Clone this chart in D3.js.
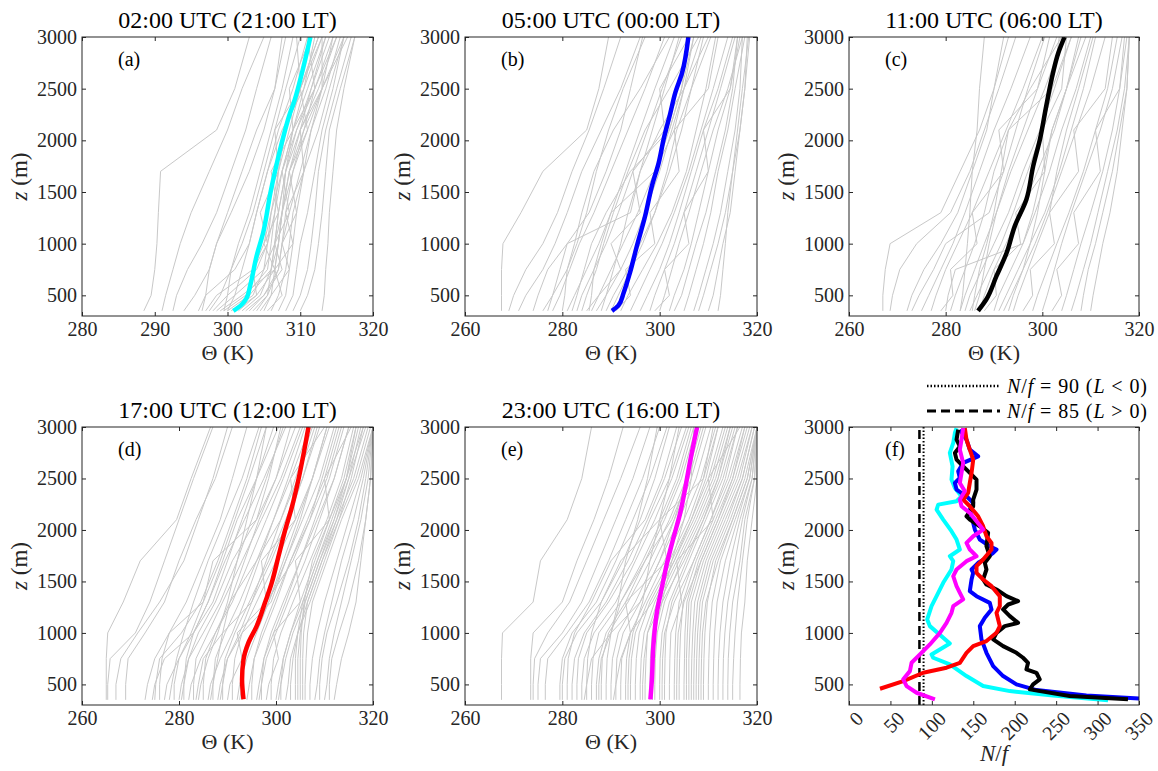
<!DOCTYPE html>
<html>
<head>
<meta charset="utf-8">
<script src="https://cdn.jsdelivr.net/npm/d3@7"></script>
<style>
  body { margin: 0; background: #fff; }
</style>
</head>
<body>
<svg id="chart" width="1158" height="771"></svg>
<script>
// heights (m) shared by all grey soundings
const LEVELS = [350, 500, 750, 1000, 1300, 1700, 2100, 2500, 3000];

// grey soundings, theta (K) at LEVELS
const greyA = [
  [288.5, 289.5, 290, 290.3, 290.5, 290.8, 298.5, 301, 303],
  [291, 291.5, 292.5, 293.5, 295, 297.5, 300, 302, 305],
  [292.5, 293, 294.5, 296.5, 298.5, 300.5, 302.5, 304, 306],
  [294, 295.5, 297.5, 298.5, 300, 302, 304, 306.5, 308],
  [296, 297, 301, 303, 304, 305.5, 307, 309, 311],
  [297, 298.5, 303.5, 305, 306, 307, 308.5, 310, 312.5],
  [297.5, 299, 300.5, 302, 303.5, 305, 306.5, 308, 310],
  [298, 300, 304, 305.5, 306.5, 307.5, 309, 311, 313.5],
  [298.5, 301, 305, 306.5, 307, 308, 309.5, 311.5, 314],
  [299, 302, 306.5, 305, 307, 306, 309, 308.5, 311.5],
  [299.5, 302.5, 305.5, 306, 306.5, 307, 308, 310, 313],
  [300, 303, 306, 307, 307.5, 308, 309, 310.5, 312],
  [300.5, 303.5, 305, 305.5, 306, 307.5, 309.5, 312, 315],
  [301, 304, 303.5, 305.5, 304.5, 307, 306.5, 310, 309.5],
  [301.5, 304, 306.5, 307, 307.5, 308.5, 310, 312.5, 315],
  [302, 304.5, 306, 306.5, 307.5, 309, 311, 313, 316],
  [302.5, 305, 307.5, 306.5, 308.5, 307.5, 309, 312, 311],
  [303, 305, 307, 307.5, 308, 309, 310.5, 312, 314.5],
  [303.5, 305.5, 306, 306.5, 307, 308, 310, 311.5, 313.5],
  [304, 305.5, 307, 307.5, 308.5, 310, 311.5, 313.5, 315.5],
  [304.5, 306, 308.5, 307.5, 309.5, 308.5, 311, 310, 312.5],
  [305, 306, 306.5, 307, 307.5, 308.5, 310.5, 313, 316.5],
  [305.5, 307.5, 306.5, 309, 308, 310.5, 310, 313, 313],
  [306, 307, 308, 308.5, 309, 310.5, 312.5, 314, 316],
  [307, 308, 308.5, 309, 309.5, 310.5, 311.5, 313, 314.5],
  [308, 309, 309.5, 310, 311, 312, 313, 314.5, 316],
  [309, 310, 311, 311.5, 312, 312.5, 313.5, 315, 317],
  [310, 311, 312, 312.5, 313, 313.5, 314, 315.5, 317.5],
  [313, 313.3, 313.5, 313.8, 314, 314.5, 315, 316, 317.5],
  [296.5, 297, 297.5, 298.5, 300.5, 303, 305, 306.5, 307.5],
  [299.5, 300, 300.5, 301.5, 303, 304.5, 306, 307.5, 309],
  [300, 301, 302, 303, 304, 305.5, 307.5, 310.5, 313]
];
const greyB = [
  [267.5, 267.5, 267.5, 267.8, 271.5, 276, 285, 287.5, 289.5],
  [269, 270, 272.5, 276, 279, 282, 285.5, 288.5, 292],
  [271, 272.5, 276, 278.5, 281, 284, 288, 292, 296],
  [274, 275, 277, 281, 285.5, 289, 292, 294, 296.5],
  [276, 278, 281, 283, 285, 287, 289.5, 292.5, 297],
  [278, 279.5, 281.5, 283.5, 286.5, 290, 293.5, 297, 301],
  [280, 280.5, 281, 282.5, 284, 286.5, 290.5, 296, 302],
  [281, 282.5, 285, 287.5, 290, 293, 296, 299, 303],
  [283, 284, 286.5, 289, 291.5, 294.5, 297.5, 300.5, 304.5],
  [284, 285, 287, 288.5, 290.5, 293.5, 297, 302, 308],
  [285, 287.5, 292, 290, 296, 294.5, 301, 300, 306],
  [286, 287.5, 290, 292.5, 295.5, 299, 302, 304.5, 307],
  [287, 289, 292, 294.5, 297, 300, 302.5, 305, 308.5],
  [288, 289, 290.5, 292, 293.5, 296, 300, 305, 310],
  [289, 290.5, 293.5, 296, 299, 302, 304.5, 306.5, 309],
  [290, 291.5, 294, 296.5, 299, 301.5, 303.5, 306.5, 310.5],
  [291, 294, 293, 299, 298, 304, 303, 310, 312],
  [292, 293.5, 296.5, 299.5, 302.5, 305.5, 307.5, 309.5, 311.5],
  [294, 295.5, 298, 300.5, 303, 306, 308.5, 311, 314],
  [296, 297.5, 300, 302, 304, 306.5, 309, 312, 315],
  [298, 299, 301, 303, 305, 307.5, 310, 312.5, 315.5],
  [299, 302, 301, 306, 305, 310, 309, 314.5, 316],
  [300, 301, 302.5, 304, 306, 308.5, 311, 314, 317],
  [302, 303, 305, 306.5, 308, 310, 312, 314.5, 316.5],
  [303, 304.5, 306, 307.5, 309.5, 311.5, 313.5, 315, 316],
  [305, 306, 307.5, 309, 310.5, 312, 314, 315.5, 317.5],
  [307, 308, 309.5, 311, 312.5, 314, 315.5, 316.5, 317],
  [308, 309, 310.5, 312, 313.5, 315, 316.5, 317.5, 318.5],
  [310, 311, 312, 313, 314.5, 315.5, 316.5, 317.5, 318],
  [312, 312.5, 313, 313.5, 314, 315, 316, 317, 318.3],
  [285.5, 286, 286.5, 288, 290, 299, 303, 305, 307],
  [282, 283, 284.5, 286, 289, 294, 302, 304.5, 306],
  [277, 278, 279.5, 281, 294, 296, 298.5, 301, 304]
];
const greyC = [
  [267, 267, 267.5, 268.5, 279, 283, 287, 290, 293],
  [268.5, 269, 270.5, 274, 281, 285, 288, 291, 294.5],
  [272, 273, 275.5, 279, 282.5, 285.5, 288.5, 290, 292],
  [273, 274.5, 277.5, 280, 289, 292, 294.5, 297, 300.5],
  [275, 276.5, 279, 281.5, 284, 287, 290, 293.5, 297.5],
  [277, 278, 280, 282.5, 285.5, 289, 292.5, 296, 300],
  [279, 281.5, 281, 286.5, 285.5, 292, 291, 299, 303],
  [281, 282, 284, 286, 288, 290, 293, 297.5, 304],
  [283, 284, 286, 288, 290.5, 293.5, 297, 300.5, 304.5],
  [284, 285, 287.5, 290, 293, 296, 299.5, 302.5, 306],
  [285, 286.5, 289, 291.5, 294, 297, 300, 302, 303.5],
  [287, 288, 290, 292.5, 295.5, 299, 302.5, 305, 307.5],
  [288, 290.5, 290, 295.5, 294.5, 300.5, 300, 304, 305],
  [290, 291, 293.5, 296, 298.5, 301.5, 304, 307, 310],
  [291, 292.5, 295, 297.5, 300.5, 303.5, 306, 308.5, 311],
  [293, 294, 296, 298.5, 301, 304, 307, 310, 313],
  [294, 295, 297, 299, 301.5, 303, 305, 307.5, 310.5],
  [296, 298, 297.5, 302.5, 301.5, 307.5, 306.5, 313, 314.5],
  [298, 299, 301, 303, 305.5, 308.5, 311, 313.5, 315.5],
  [300, 301, 302.5, 304, 306, 309, 312, 314.5, 316.5],
  [302, 304, 303, 307.5, 306.5, 312, 311, 316, 317],
  [304, 305, 306.5, 308, 310, 312.5, 314.5, 316, 317.5],
  [306, 307, 308.5, 310, 311.5, 313.5, 315.5, 317, 318],
  [308, 308.5, 309.5, 311, 312.5, 314.5, 316, 317.5, 318],
  [310, 310.5, 311.5, 312.5, 314, 315.5, 316.5, 317.5, 318],
  [283, 283.5, 284, 284.5, 285, 285.5, 286.5, 287, 288],
  [286, 287, 288, 289, 290.5, 293, 296, 299, 301.5],
  [292, 293.5, 296, 297.5, 299, 300.5, 302, 305, 308],
  [280, 280.5, 282, 296, 298, 300, 302, 305, 309],
  [285.5, 286, 287, 288.5, 290, 291.5, 293, 302, 306]
];
const greyD = [
  [265, 265, 265, 265.3, 268.5, 272, 279.5, 282.5, 286.5],
  [265.3, 265.3, 265.8, 271, 274, 277, 280, 283, 287],
  [267, 267, 268, 271.5, 276, 281, 284, 287, 290],
  [269, 269, 269.5, 273, 277, 280, 283.5, 287.5, 291],
  [273, 273.5, 275, 278, 281.5, 285, 288.5, 291, 294],
  [275, 275.2, 276, 280.5, 284.5, 288, 291, 294, 297],
  [276, 276, 276.5, 278, 285, 288.5, 291.5, 294.5, 298],
  [277, 277.5, 280, 282.5, 285, 287, 296, 298.5, 301],
  [278, 278.5, 279.5, 281, 283, 286, 289.5, 293, 296.5],
  [279, 279, 280, 283, 286, 289, 292, 296, 300.5],
  [280, 280.5, 282, 285, 288.5, 292, 295, 298, 301.5],
  [281, 281, 281.5, 283, 286, 289.5, 293.5, 297.5, 302],
  [282, 282.5, 284.5, 287.5, 290.5, 293.5, 296.5, 300, 304],
  [283, 283, 283.5, 286, 289, 293, 297, 301, 305],
  [284, 284.5, 286, 288, 290, 292, 294, 296, 298],
  [285, 285, 285.5, 287.5, 291, 294.5, 298, 301.5, 305.5],
  [286, 286.5, 288.5, 291, 293.5, 296.5, 299.5, 302.5, 306],
  [287, 287, 287.5, 289.5, 292.5, 296, 299.5, 303, 307],
  [288, 288.5, 290, 292.5, 295, 298, 301, 304.5, 308],
  [289, 289, 289.5, 291.5, 294.5, 298.5, 302, 305.5, 308.5],
  [290, 290.5, 293, 292, 298, 297, 304, 303, 310],
  [291, 291, 291.5, 293, 296, 300, 304, 307.5, 311],
  [292, 292.5, 294, 296, 298.5, 301.5, 304.5, 307.5, 310.5],
  [293, 293, 293.5, 295.5, 298.5, 302, 305.5, 309, 312],
  [294, 294.5, 295.5, 297.5, 300, 303, 306.5, 310, 313],
  [295, 295, 295.5, 297, 299.5, 303, 307, 310.5, 313.5],
  [296, 296.5, 297.5, 299.5, 302, 305, 308, 311, 314],
  [297, 297, 297.5, 299, 301.5, 305, 308.5, 312, 315],
  [298, 298.5, 300.5, 299.5, 305, 304, 311, 310, 315.5],
  [299, 299, 299.5, 301, 303.5, 307, 310.5, 313.5, 316],
  [300, 300.5, 301.5, 303, 305, 308, 311, 314, 316.5],
  [301, 301, 301.5, 303, 305.5, 308.5, 311.5, 314.5, 317],
  [302, 302.5, 303, 304.5, 306.5, 309.5, 312.5, 315, 317.5],
  [303, 303, 303.5, 304.5, 307, 310, 313, 315.5, 318],
  [304, 304, 304, 304.5, 305.5, 308.5, 312, 315, 318.5],
  [304.5, 304.5, 304.5, 305, 306, 309, 312.5, 316, 319],
  [305, 305, 305, 305.2, 305.8, 307.5, 311, 314.5, 318],
  [305.5, 305.5, 305.5, 305.7, 306.5, 309.5, 313, 316.5, 319.5],
  [306, 306, 306.2, 306.5, 307.5, 310.5, 313.5, 317, 320],
  [307, 307, 307.5, 308.5, 310, 312.5, 315, 317.5, 320],
  [308, 308.5, 309, 310, 311.5, 313.5, 316, 318, 320],
  [309, 309, 309.5, 310.5, 312.5, 315, 317, 318.5, 320],
  [310, 310.5, 311, 312, 313.5, 315.5, 317.5, 319, 320],
  [311, 311, 311.5, 313, 315, 317, 318.5, 319.5, 320],
  [312, 312.5, 313.5, 315, 316.5, 317.5, 318.5, 319.5, 320],
  [283.5, 284, 285, 289, 295, 299, 302.5, 305.5, 309],
  [288.5, 289, 290, 293, 299, 302, 305, 307.5, 310.5],
  [286.5, 287, 288, 289, 290.5, 296, 301, 304, 307.5],
  [292.5, 293, 293.5, 295, 298, 303.5, 307, 309.5, 312.5],
  [280.5, 281, 282, 284, 287.5, 291, 296, 300, 303],
  [296.5, 297, 298, 300, 302.5, 306, 309, 312, 315],
  [300.5, 301, 302, 303.5, 306, 309, 312, 314.5, 316.5],
  [274.5, 275, 277, 283, 287, 290, 293, 296, 299.5]
];
const greyE = [
  [267.5, 267.5, 267.5, 267.7, 274, 275.5, 281, 284, 286],
  [273.5, 273.5, 273.5, 274, 280, 283, 286.5, 289.5, 292.5],
  [274, 274, 274.3, 277, 281.5, 285, 288.5, 292, 296],
  [275, 275, 275.5, 280, 284, 287.5, 291, 294.5, 298],
  [276.5, 276.5, 277, 281, 285.5, 289.5, 293, 296.5, 300],
  [279.5, 279.5, 280, 282, 287, 291, 294.5, 298, 301.5],
  [280, 280, 280.5, 283, 288, 292.5, 296, 299, 302],
  [281, 281, 281.2, 282.5, 286, 290, 297, 300.5, 303.5],
  [282, 282, 282.5, 284.5, 289, 293.5, 297.5, 301, 304.5],
  [283, 283, 283.3, 285, 289.5, 294.5, 298, 302, 305.5],
  [284, 284, 284.5, 286.5, 291, 295, 299, 302.5, 306],
  [285, 285, 285.2, 286, 288, 292, 300, 303.5, 306.5],
  [286, 286, 286.3, 287.5, 292, 296.5, 300.5, 304, 307],
  [287, 287, 287.5, 289, 293, 297, 301, 304.5, 307.5],
  [288, 288, 288.2, 289.5, 293.5, 298, 302, 305.5, 308.5],
  [289, 289, 289.2, 290, 292, 297, 302.5, 306, 309],
  [290, 290, 290.3, 291.5, 295, 299, 303, 306.5, 309.5],
  [291, 291, 291.2, 292.5, 296, 300, 304, 307.5, 310.5],
  [292, 292, 292.2, 294, 293, 301.5, 300, 309, 311],
  [293, 293, 293.2, 294, 297, 301, 305, 308.5, 311.5],
  [294, 294, 294.2, 295, 297.5, 302, 306, 309, 312],
  [295, 295, 295.2, 295.8, 298, 302.5, 306.5, 310, 313],
  [296, 296, 296.2, 296.8, 299, 303, 307, 310.5, 313.5],
  [297, 297, 297.2, 297.5, 299.5, 303.5, 307.5, 311, 314],
  [298, 298, 298.1, 298.5, 300, 304, 308, 311.5, 314.5],
  [299, 299, 299.1, 299.5, 301, 304.5, 308.5, 312, 315],
  [300, 300, 300.1, 300.5, 302, 305.5, 309, 312.5, 315.5],
  [301, 301, 301.1, 301.3, 302.5, 306, 309.5, 313, 316],
  [302, 302, 302.1, 302.3, 304.5, 303.5, 311, 310, 316.5],
  [303, 303, 303.1, 303.3, 304, 307, 310.5, 314, 317],
  [304, 304, 304.1, 304.3, 304.8, 307.5, 311, 314.5, 317.5],
  [305, 305, 305.1, 305.2, 305.6, 308, 311.5, 315, 318],
  [305.5, 305.5, 305.5, 305.7, 306, 308.5, 312, 315.5, 318.5],
  [306, 306, 306, 306.2, 306.5, 309, 312.5, 316, 319],
  [306.5, 306.5, 306.6, 306.8, 307.2, 309.5, 313, 316.5, 319],
  [307, 307, 307.1, 307.3, 307.8, 310, 313.5, 317, 319.5],
  [307.5, 307.5, 307.6, 307.8, 308.3, 310.5, 314, 317, 319.5],
  [308, 308, 308.1, 308.3, 308.8, 311, 314.5, 317.5, 320],
  [309, 309, 309.1, 309.3, 309.8, 311.5, 315, 318, 320],
  [310, 310, 310.1, 310.3, 310.8, 312.5, 315.5, 318.5, 320],
  [311, 311, 311.1, 311.3, 311.8, 313.5, 316, 318.5, 320],
  [312, 312, 312.1, 312.4, 313, 314.5, 316.5, 319, 320],
  [313, 313, 313.1, 313.4, 314, 315.5, 317, 319, 320],
  [314, 314, 314.1, 314.4, 315, 316.5, 317.5, 319.5, 320],
  [315, 315, 315.2, 315.5, 316, 317, 318, 319.5, 320],
  [316.5, 316.5, 316.6, 316.8, 317.5, 318, 319, 320, 320],
  [284.5, 285, 286, 290, 296, 300, 303, 305.5, 307.5],
  [290.5, 291, 292, 294, 298.5, 303, 306.5, 309.5, 312],
  [296.5, 296.5, 296.8, 297.5, 300.5, 305, 309, 312, 314.5],
  [300.5, 300.5, 300.6, 301, 303, 307, 310.5, 313.5, 316],
  [303.5, 303.5, 303.6, 303.8, 305, 308.5, 312, 315, 317.5],
  [308.5, 308.5, 308.6, 308.8, 309.5, 312, 315, 318, 320],
  [298.5, 298.5, 298.6, 299, 300.5, 302.5, 305, 306.5, 307],
  [293.5, 293.5, 293.7, 294.5, 296.5, 298, 300, 302, 304],
  [287.5, 287.5, 288, 290, 291.5, 293, 295.5, 297.5, 299.5]
];

// mean profiles [theta (K), z (m)]
const meanA = [[300.8, 350], [301.8, 400], [302.6, 470], [303.1, 590], [304.0, 880], [304.9, 1105], [305.9, 1492], [306.8, 1782], [307.7, 2040], [308.6, 2265], [309.1, 2362], [310.0, 2588], [311.4, 3000]];
const meanB = [[290.2, 350], [291.5, 400], [292.6, 525], [293.9, 720], [295.3, 975], [297.0, 1265], [298.4, 1557], [299.8, 1782], [300.8, 2008], [302.2, 2265], [303.2, 2459], [304.6, 2652], [305.9, 3000]];
const meanC = [[286.7, 350], [288.4, 460], [290.5, 685], [292.6, 910], [294.3, 1170], [296.7, 1428], [298.1, 1750], [299.5, 2008], [300.8, 2330], [302.2, 2652], [303.3, 2845], [304.6, 3000]];
const meanD = [[293.3, 355], [293.0, 548], [293.3, 742], [294.3, 903], [296.0, 1064], [297.7, 1290], [299.1, 1484], [300.5, 1742], [301.9, 2000], [303.3, 2226], [304.6, 2484], [305.7, 2742], [306.7, 3000]];
const meanE = [[298.1, 355], [298.4, 548], [298.7, 871], [299.4, 1193], [300.5, 1452], [301.5, 1677], [302.9, 1935], [304.2, 2161], [305.3, 2419], [306.3, 2677], [307.7, 3000]];

// panel (f): N/f profiles [N/f, z (m)]
const nfCyan = [[312.6, 345], [246.3, 393], [194.1, 435], [161.9, 484], [141.8, 581], [121.7, 694], [101.6, 759], [99.6, 791], [121.7, 898], [97.6, 1066], [94.4, 1131], [99.6, 1260], [105.7, 1357], [113.7, 1487], [123.7, 1616], [125.8, 1697], [121.7, 1745], [133.8, 1810], [129.8, 1907], [123.7, 1988], [113.7, 2101], [105.7, 2198], [107.7, 2246], [129.8, 2279], [135.8, 2327], [127.8, 2408], [123.7, 2489], [125, 2618], [121.7, 2748], [125.8, 2845], [127.8, 2942], [129.8, 2990]];
const nfBlue = [[354.8, 361], [286.5, 393], [226.2, 445], [202.1, 500], [186, 581], [174, 678], [165.9, 807], [159.9, 937], [157.9, 1066], [163.9, 1147], [172, 1228], [169.9, 1292], [153.9, 1357], [145.8, 1406], [147.9, 1519], [149.9, 1584], [147.9, 1616], [155.9, 1681], [165.9, 1729], [174, 1778], [178, 1810], [169.9, 1842], [157.9, 1907], [151.9, 2004], [145.8, 2198], [149.9, 2263], [141.8, 2327], [129.8, 2392], [127.8, 2457], [133.8, 2505], [131.8, 2570], [137.8, 2651], [155.9, 2715], [145.8, 2780], [141.8, 2877], [133.8, 2974]];
const nfBlack = [[336.7, 355], [266.4, 387], [218.2, 452], [222.2, 500], [230.2, 549], [226.2, 613], [214.1, 646], [216.1, 710], [210.1, 759], [202.1, 807], [186, 872], [174, 937], [178, 1001], [188, 1066], [204.1, 1098], [194.1, 1163], [186, 1228], [192.1, 1276], [204.1, 1309], [190.1, 1357], [178, 1422], [165.9, 1470], [161.9, 1519], [165.9, 1616], [163.9, 1681], [169.9, 1745], [165.9, 1842], [167.9, 1972], [157.9, 2036], [145.8, 2101], [141.8, 2133], [149.9, 2230], [149.9, 2295], [153.9, 2392], [153.9, 2489], [145.8, 2554], [137.8, 2618], [129.8, 2683], [127.8, 2748], [133.8, 2812], [129.8, 2877], [131.8, 2974]];
const nfRed = [[37.4, 458], [65.5, 532], [89.6, 613], [117.7, 662], [133.8, 710], [141.8, 807], [149.9, 872], [165.9, 921], [178, 1001], [182, 1066], [180, 1131], [178, 1195], [182, 1260], [182, 1357], [172, 1454], [161.9, 1519], [153.9, 1584], [153.9, 1648], [161.9, 1713], [172, 1810], [172, 1874], [165.9, 1939], [161.9, 2036], [155.9, 2133], [145.8, 2230], [137.8, 2295], [143.8, 2360], [145.8, 2457], [147.9, 2554], [149.9, 2683], [145.8, 2780], [141.8, 2877], [139.8, 2990]];
const nfMagenta = [[103.7, 355], [81.6, 419], [69.5, 484], [65.5, 549], [73.5, 629], [75.5, 710], [85.6, 791], [97.6, 888], [109.7, 1001], [117.7, 1098], [123.7, 1195], [125.8, 1260], [137.8, 1325], [133.8, 1389], [129.8, 1454], [125.8, 1551], [129.8, 1616], [141.8, 1697], [153.9, 1745], [145.8, 1810], [141.8, 1874], [149.9, 1939], [161.9, 2004], [153.9, 2085], [145.8, 2166], [135.8, 2230], [133.8, 2295], [139.8, 2376], [133.8, 2457], [135.8, 2554], [137.8, 2651], [133.8, 2780], [135.8, 2877], [137.8, 2990]];
const nfThresholds = [90, 85];   // dotted (L<0), dashed (L>0)

const titles = ['02:00 UTC (21:00 LT)', '05:00 UTC (00:00 LT)', '11:00 UTC (06:00 LT)',
                '17:00 UTC (12:00 LT)', '23:00 UTC (16:00 LT)'];
const panelLetters = ['(a)', '(b)', '(c)', '(d)', '(e)', '(f)'];
const zTicks = [500, 1000, 1500, 2000, 2500, 3000];
const thetaTicksA = [280, 290, 300, 310, 320];
const thetaTicks = [260, 280, 300, 320];
const nfTicks = [0, 50, 100, 150, 200, 250, 300, 350];

const COLS = [[82, 291], [465, 292], [849, 290]];
const ROWS = [[37, 279], [427, 278]];
const AXIS_COLOR = '#262626';
const FONT = '"Liberation Serif", "Times New Roman", "DejaVu Serif", serif';

const svg = d3.select('#chart')
    .attr('font-family', FONT);
const defs = svg.append('defs');

function frame(idx) {
    const [left, w] = COLS[idx % 3];
    const [top, h] = ROWS[Math.floor(idx / 3)];
    return { left, top, w, h, idx };
}

function drawAxes(g, f, x, y, xTicks, rotate) {
    const fmt = d3.format('d');
    const bottom = g.append('g').attr('transform', `translate(0,${f.top + f.h})`)
        .call(d3.axisBottom(x).tickValues(xTicks).tickFormat(fmt)
            .tickSizeInner(-4).tickSizeOuter(0).tickPadding(6));
    g.append('g').attr('transform', `translate(${f.left},0)`)
        .call(d3.axisLeft(y).tickValues(zTicks).tickFormat(fmt)
            .tickSizeInner(-4).tickSizeOuter(0).tickPadding(5));
    g.append('g').attr('transform', `translate(0,${f.top})`)
        .call(d3.axisTop(x).tickValues(xTicks).tickSizeInner(-4).tickSizeOuter(0).tickFormat(() => ''));
    g.append('g').attr('transform', `translate(${f.left + f.w},0)`)
        .call(d3.axisRight(y).tickValues(zTicks).tickSizeInner(-4).tickSizeOuter(0).tickFormat(() => ''));
    g.selectAll('.domain').remove();
    g.selectAll('g').attr('font-family', FONT).attr('font-size', 20);
    g.selectAll('.tick line').attr('stroke', AXIS_COLOR);
    g.selectAll('.tick text').attr('fill', AXIS_COLOR);
    if (rotate) {
        bottom.selectAll('.tick text')
            .attr('text-anchor', 'end').attr('dy', '0.35em').attr('y', 0)
            .attr('transform', 'translate(10,10) rotate(-45)');
    }
    g.append('rect')
        .attr('x', f.left).attr('y', f.top).attr('width', f.w).attr('height', f.h)
        .attr('fill', 'none').attr('stroke', AXIS_COLOR).attr('stroke-width', 1);

    // y label
    const yl = g.append('text')
        .attr('transform', `translate(${f.left - 55},${f.top + f.h / 2}) rotate(-90)`)
        .attr('text-anchor', 'middle').attr('font-size', 23).attr('fill', AXIS_COLOR);
    yl.append('tspan').attr('font-style', 'italic').text('z');
    yl.append('tspan').text(' (m)');

    g.append('text').attr('x', f.left + 36).attr('y', f.top + 29)
        .attr('font-size', 20).attr('fill', '#000')
        .text(panelLetters[f.idx]);
}

function thetaPanel(idx, grey, mean, color) {
    const f = frame(idx);
    const g = svg.append('g');
    const x = d3.scaleLinear().domain(idx === 0 ? [280, 320] : [260, 320]).range([f.left, f.left + f.w]);
    const y = d3.scaleLinear().domain([300, 3000]).range([f.top + f.h, f.top]);

    defs.append('clipPath').attr('id', 'clip' + idx)
        .append('rect').attr('x', f.left).attr('y', f.top).attr('width', f.w).attr('height', f.h);
    const plot = g.append('g').attr('clip-path', `url(#clip${idx})`);

    const greyLine = d3.line().x(d => x(d[0])).y(d => y(d[1]));
    plot.selectAll('.grey').data(grey).join('path')
        .attr('class', 'grey')
        .attr('d', p => greyLine(p.map((t, i) => [t, LEVELS[i]])))
        .attr('fill', 'none').attr('stroke', '#c8c8c8').attr('stroke-width', 1);

    plot.append('path').datum(mean)
        .attr('d', d3.line().x(d => x(d[0])).y(d => y(d[1])).curve(d3.curveMonotoneY))
        .attr('fill', 'none').attr('stroke', color).attr('stroke-width', 4.5);

    drawAxes(g, f, x, y, idx === 0 ? thetaTicksA : thetaTicks, false);

    g.append('text').attr('x', f.left + f.w / 2).attr('y', f.top - 9)
        .attr('text-anchor', 'middle').attr('font-size', 24).attr('fill', '#000')
        .text(titles[idx]);
    g.append('text').attr('x', f.left + f.w / 2).attr('y', f.top + f.h + 44)
        .attr('text-anchor', 'middle').attr('font-size', 22).attr('fill', AXIS_COLOR)
        .text('\u0398 (K)');
}

thetaPanel(0, greyA, meanA, '#00ffff');
thetaPanel(1, greyB, meanB, '#0000ff');
thetaPanel(2, greyC, meanC, '#000000');
thetaPanel(3, greyD, meanD, '#ff0000');
thetaPanel(4, greyE, meanE, '#ff00ff');

// panel (f)
(function () {
    const f = frame(5);
    const g = svg.append('g');
    const x = d3.scaleLinear().domain([0, 350]).range([f.left, f.left + f.w]);
    const y = d3.scaleLinear().domain([300, 3000]).range([f.top + f.h, f.top]);
    defs.append('clipPath').attr('id', 'clip5')
        .append('rect').attr('x', f.left).attr('y', f.top).attr('width', f.w).attr('height', f.h);
    const plot = g.append('g').attr('clip-path', 'url(#clip5)');

    const styles = [
        { dash: '1.5,2', width: 2 },
        { dash: '9,5', width: 2.5 }
    ];
    nfThresholds.forEach((v, i) => {
        plot.append('line')
            .attr('x1', x(v)).attr('x2', x(v)).attr('y1', y(300)).attr('y2', y(3000))
            .attr('stroke', '#000').attr('stroke-width', styles[i].width)
            .attr('stroke-dasharray', styles[i].dash);
    });

    const line = d3.line().x(d => x(d[0])).y(d => y(d[1]));
    const series = [[nfCyan, '#00ffff'], [nfBlue, '#0000ff'], [nfBlack, '#000000'],
                    [nfRed, '#ff0000'], [nfMagenta, '#ff00ff']];
    series.forEach(([data, color]) => {
        plot.append('path').datum(data).attr('d', line)
            .attr('fill', 'none').attr('stroke', color).attr('stroke-width', 4)
            .attr('stroke-linejoin', 'round');
    });

    drawAxes(g, f, x, y, nfTicks, true);

    const xl = g.append('text').attr('x', f.left + f.w / 2).attr('y', f.top + f.h + 56)
        .attr('text-anchor', 'middle').attr('font-size', 23).attr('fill', AXIS_COLOR);
    xl.append('tspan').attr('font-style', 'italic').text('N');
    xl.append('tspan').text('/');
    xl.append('tspan').attr('font-style', 'italic').text('f');

    // legend above the panel
    const legendRows = [
        { y: 386, value: nfThresholds[0], rel: '<', style: styles[0] },
        { y: 411, value: nfThresholds[1], rel: '>', style: styles[1] }
    ];
    legendRows.forEach(r => {
        g.append('line').attr('x1', 927).attr('x2', 1000).attr('y1', r.y).attr('y2', r.y)
            .attr('stroke', '#000').attr('stroke-width', r.style.width + 0.5)
            .attr('stroke-dasharray', r.style.dash);
        const t = g.append('text').attr('x', 1007).attr('y', r.y + 7).attr('font-size', 20)
            .attr('fill', '#000')
            .attr('textLength', 140).attr('lengthAdjust', 'spacing');
        t.append('tspan').attr('font-style', 'italic').text('N');
        t.append('tspan').text('/');
        t.append('tspan').attr('font-style', 'italic').text('f');
        t.append('tspan').text(` = ${r.value} (`);
        t.append('tspan').attr('font-style', 'italic').text('L');
        t.append('tspan').text(` ${r.rel} 0)`);
    });
})();
</script>
</body>
</html>
